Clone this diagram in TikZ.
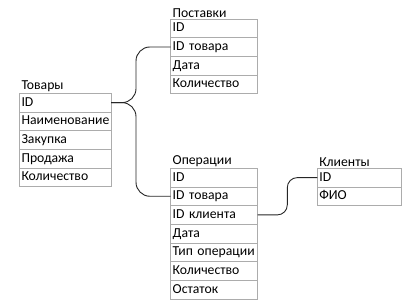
\documentclass[tikz,border=0pt]{standalone}
\usepackage{fontspec}
\setmainfont{Carlito}
\usetikzlibrary{positioning}
\tikzset{
    tblTitle/.style={anchor=south west, inner xsep=1.8pt, inner ysep=1.5pt, font=\fontsize{13.7}{15}\selectfont},
    field/.style={
        draw=gray!65,
        line width=0.6pt,
        text width=#1,
        align=left,
        minimum height=18.65pt,
        inner xsep=2pt,
        inner ysep=0pt,
        outer sep=0pt,
        text height=9.5pt,
        text depth=2.5pt,
        font=\fontsize{13.7}{15}\selectfont
    },
    link/.style={draw=black!85, line width=0.9pt, rounded corners=14pt},
}

\begin{document}
\begin{tikzpicture}[x=1pt, y=1pt]
    \useasboundingbox (0,0) rectangle (418,-305);

    % Товары
    \node[field=87.5pt, anchor=north west] (tovId) at (19.5,-93.3) {ID};
    \node[field=87.5pt, below=0pt of tovId] (tovName) {Наименование};
    \node[field=87.5pt, below=0pt of tovName] (tovBuy) {Закупка};
    \node[field=87.5pt, below=0pt of tovBuy] (tovSell) {Продажа};
    \node[field=87.5pt, below=0pt of tovSell] (tovQty) {Количество};
    \node[tblTitle] (tovTitle) at (tovId.north west) {Товары};

    % Поставки
    \node[field=83pt, anchor=north west] (postId) at (170.7,-19) {ID};
    \node[field=83pt, below=0pt of postId] (postTov) {ID товара};
    \node[field=83pt, below=0pt of postTov] (postDate) {Дата};
    \node[field=83pt, below=0pt of postDate] (postQty) {Количество};
    \node[tblTitle] (postTitle) at (postId.north west) {Поставки};

    % Операции
    \node[field=83pt, anchor=north west] (operId) at (170.7,-168.3) {ID};
    \node[field=83pt, below=0pt of operId] (operTov) {ID товара};
    \node[field=83pt, below=0pt of operTov] (operKlient) {ID клиента};
    \node[field=83pt, below=0pt of operKlient] (operDate) {Дата};
    \node[field=83pt, below=0pt of operDate] (operType) {Тип операции};
    \node[field=83pt, below=0pt of operType] (operQty) {Количество};
    \node[field=83pt, below=0pt of operQty] (operRest) {Остаток};
    \node[tblTitle] (operTitle) at (operId.north west) {Операции};

    % Клиенты
    \node[field=80.4pt, anchor=north west] (klId) at (317.3,-168.3) {ID};
    \node[field=80.4pt, below=0pt of klId] (klFio) {ФИО};
    \node[tblTitle] (klTitle) at (klId.north west) {Клиенты};

    % Связи
    \draw[link] (tovId.east) -- ++(25,0) |- (postTov.west);
    \draw[link] (tovId.east) -- ++(25,0) |- (operTov.west);
    \draw[link, rounded corners=10pt] (operKlient.east) -- ++(29.6,0) |- (klId.west);
\end{tikzpicture}
\end{document}
